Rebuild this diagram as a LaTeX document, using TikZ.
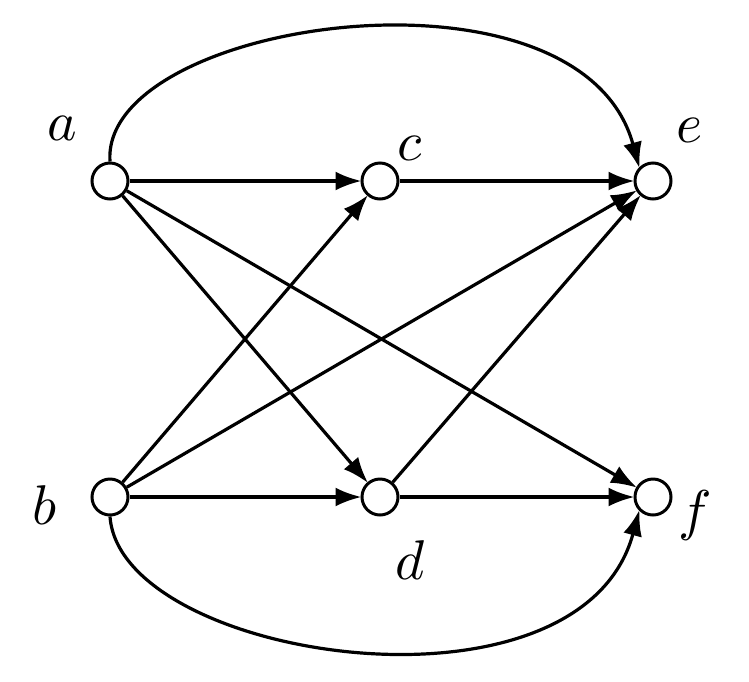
\documentclass[tikz,border=0pt]{standalone}
\usepackage{graphicx}
\usetikzlibrary{arrows.meta}
\begin{document}
\begin{tikzpicture}[x=1pt,y=-1pt,
  vtx/.style={circle,draw,line width=3pt,minimum size=36pt,inner sep=0pt,fill=white},
  lbl/.style={inner sep=0pt},
  edge/.style={line width=3.2pt,-{Latex[length=26pt,width=19pt]},shorten >=-1pt}]
\useasboundingbox (0,0) rectangle (749,681);
\newcommand{\biglbl}[1]{\scalebox{5.6}{$#1$}}
\node[vtx] (a) at (110,181) {};
\node[vtx] (c) at (380,181) {};
\node[vtx] (e) at (653,181) {};
\node[vtx] (b) at (110,497) {};
\node[vtx] (d) at (380,497) {};
\node[vtx] (f) at (653,497) {};
\node[lbl] (la) at (62,128) {\biglbl{a}};
\node[lbl] (lc) at (410,148) {\biglbl{c}};
\node[lbl] (le) at (690,130) {\biglbl{e}};
\node[lbl] (lb) at (45,505) {\biglbl{b}};
\node[lbl] (ld) at (410,560) {\biglbl{d}};
\node[lbl] (lf) at (695,515) {\biglbl{f}};
\draw[edge] (a) -- (c);
\draw[edge] (a) -- (d);
\draw[edge] (a) -- (f);
\draw[edge] (b) -- (c);
\draw[edge] (b) -- (e);
\draw[edge] (b) -- (d);
\draw[edge] (c) -- (e);
\draw[edge] (d) -- (e);
\draw[edge] (d) -- (f);
\draw[edge] (a.north) .. controls (100,20) and (580,-50) .. (e.north west);
\draw[edge] (b.south) .. controls (120,660) and (580,730) .. (f.south west);
\end{tikzpicture}
\end{document}
